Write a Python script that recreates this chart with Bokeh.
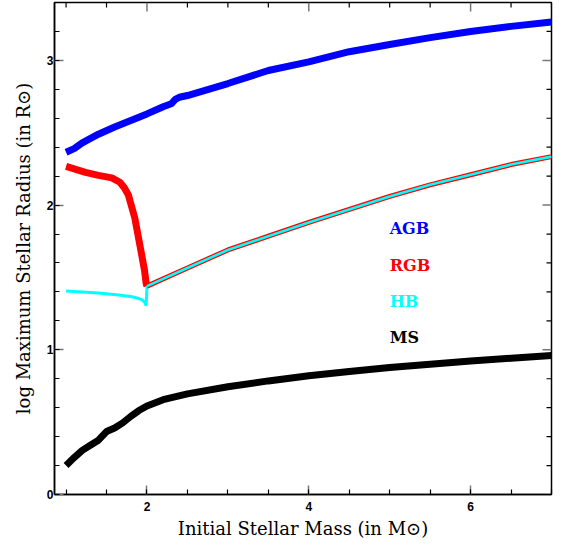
import numpy as np
from bokeh.plotting import figure
from bokeh.models import SingleIntervalTicker, Range1d
from bokeh.core.properties import value
from bokeh.embed import file_html
from bokeh.resources import INLINE

# ---- data ----
agb_mass = [1.0, 1.1, 1.2, 1.4, 1.6, 1.8, 2.0, 2.2, 2.3, 2.35, 2.4, 2.5, 3.0, 3.5, 4.0, 4.5, 5.0, 5.5, 6.0, 6.5, 7.0]
agb_logr = [2.365, 2.39, 2.43, 2.49, 2.54, 2.585, 2.63, 2.68, 2.70, 2.73, 2.745, 2.757, 2.84, 2.93, 2.99, 3.06, 3.11, 3.157, 3.20, 3.235, 3.265]

rgb_low_mass = [1.0, 1.1, 1.24, 1.4, 1.565, 1.665, 1.72, 1.77, 1.85, 1.91, 1.97, 1.99, 2.0]
rgb_low_logr = [2.267, 2.25, 2.226, 2.205, 2.188, 2.158, 2.12, 2.07, 1.91, 1.73, 1.548, 1.458, 1.44]

rgb_high_mass = [2.0, 2.5, 3.0, 3.5, 4.0, 4.5, 5.0, 5.5, 6.0, 6.5, 7.0]
rgb_high_logr = [1.44, 1.565, 1.69, 1.785, 1.88, 1.97, 2.06, 2.14, 2.21, 2.28, 2.335]

hb_low_mass = [1.0, 1.2, 1.4, 1.65, 1.8, 1.89, 1.94, 1.97, 1.99, 2.0]
hb_low_logr = [1.406, 1.40, 1.393, 1.378, 1.368, 1.356, 1.345, 1.33, 1.306, 1.44]

hb_high_mass = rgb_high_mass
hb_high_logr = rgb_high_logr

ms_mass = [1.0, 1.1, 1.2, 1.3, 1.4, 1.5, 1.6, 1.7, 1.8, 1.9, 2.0, 2.2, 2.5, 3.0, 3.5, 4.0, 4.5, 5.0, 5.5, 6.0, 6.5, 7.0]
ms_logr = [0.20, 0.255, 0.305, 0.34, 0.375, 0.435, 0.46, 0.495, 0.54, 0.58, 0.612, 0.655, 0.695, 0.745, 0.785, 0.82, 0.85, 0.877, 0.90, 0.922, 0.942, 0.96]

labels = ["AGB", "RGB", "HB", "MS"]
label_colors = ["#0000ff", "#ff0000", "#00ffff", "#000000"]

SERIF = "DejaVu Serif"
SANS = "Liberation Sans"

X0, X1 = 0.857, 7.0
Y0, Y1 = 0.0, 3.4

p = figure(width=553, height=541, output_backend="svg", toolbar_location=None,
           x_range=Range1d(X0, X1), y_range=Range1d(Y0, Y1),
           min_border_left=54, min_border_right=2, min_border_top=2, min_border_bottom=30,
           x_axis_label="Initial Stellar Mass (in M\u2299)",
           y_axis_label="log Maximum Stellar Radius (in R\u2299)")
p.grid.visible = False
p.outline_line_color = "black"
p.outline_line_width = 1.5
p.background_fill_color = "white"
p.border_fill_color = "white"

p.xaxis.ticker = SingleIntervalTicker(interval=2, num_minor_ticks=4)
p.yaxis.ticker = SingleIntervalTicker(interval=1, num_minor_ticks=5)

for ax in (p.xaxis[0], p.yaxis[0]):
    ax.major_tick_in = 9
    ax.major_tick_out = 0
    ax.minor_tick_in = 5
    ax.minor_tick_out = 0
    ax.major_tick_line_color = "#777777"
    ax.major_tick_line_width = 1.5
    ax.minor_tick_line_color = "black"
    ax.minor_tick_line_width = 1.2
    ax.axis_line_color = "black"
    ax.axis_line_width = 1.5
    ax.major_label_text_font = SANS
    ax.major_label_text_font_style = "bold"
    ax.major_label_text_font_size = "12px"
    ax.major_label_text_color = "black"
    ax.axis_label_text_font = SERIF
    ax.axis_label_text_font_style = "normal"
    ax.axis_label_text_font_size = "18px"
    ax.axis_label_text_color = "black"

p.xaxis.major_label_standoff = 7
p.xaxis.axis_label_standoff = 4
p.yaxis.major_label_standoff = 1
p.yaxis.axis_label_standoff = 10
p.yaxis.major_label_orientation = "horizontal"

# ---- top / right inward ticks (frame chrome) ----
top_minor = [t for t in np.arange(1.0, X1 + 1e-9, 0.5) if abs(t / 2 - round(t / 2)) > 1e-6]
top_major = [t for t in np.arange(2.0, X1 + 1e-9, 2.0)]
right_minor = [t for t in np.arange(0.2, Y1 + 1e-9, 0.2) if abs(t - round(t)) > 1e-6]
right_major = [t for t in np.arange(1.0, Y1 + 1e-9, 1.0)]

p.ray(x=top_minor, y=[Y1] * len(top_minor), length=5, length_units="screen",
      angle=-np.pi / 2, line_color="black", line_width=1.2)
p.ray(x=top_major, y=[Y1] * len(top_major), length=9, length_units="screen",
      angle=-np.pi / 2, line_color="#777777", line_width=1.5)
p.ray(x=[X1] * len(right_minor), y=right_minor, length=5, length_units="screen",
      angle=np.pi, line_color="black", line_width=1.2)
p.ray(x=[X1] * len(right_major), y=right_major, length=9, length_units="screen",
      angle=np.pi, line_color="#777777", line_width=1.5)

# ---- curves ----
p.line(agb_mass, agb_logr, line_color="#0000ff", line_width=7)
p.line(ms_mass, ms_logr, line_color="black", line_width=7)
p.line(rgb_low_mass, rgb_low_logr, line_color="#ff0000", line_width=7)
p.line(hb_low_mass, hb_low_logr, line_color="#00ffff", line_width=3)
p.line(rgb_high_mass, rgb_high_logr, line_color="#ff0000", line_width=5)
p.line(hb_high_mass, hb_high_logr, line_color="#00ffff", line_width=2.6)

# ---- labels ----
lab_x = [5.0] * len(labels)
lab_y = [1.835, 1.585, 1.335, 1.085]
p.text(x=lab_x, y=lab_y, text=labels, text_color=label_colors,
       text_font=value(SERIF), text_font_style="bold", text_font_size="16px",
       text_align="left", text_baseline="middle")

open("out.html", "w").write(file_html(p, INLINE))
